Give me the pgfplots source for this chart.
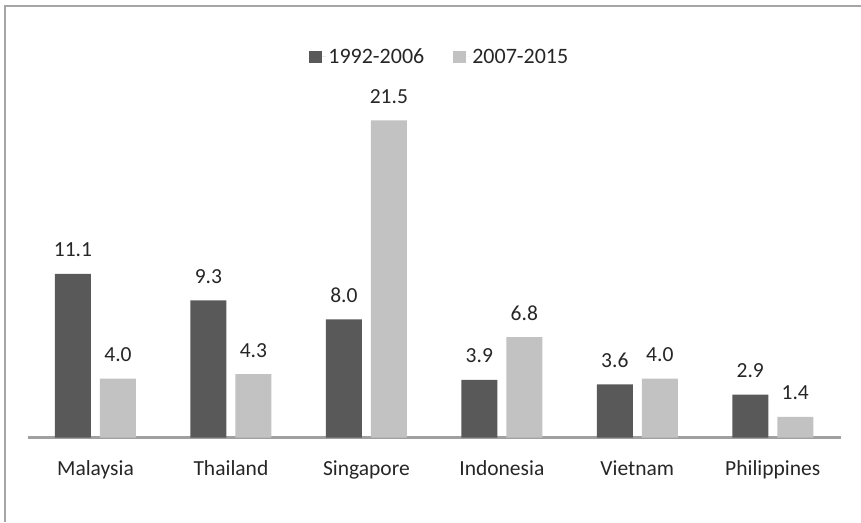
\documentclass[border=0pt]{standalone}
\usepackage{pgfplots}
\pgfplotsset{compat=1.18}
\usepackage{fontspec}
\setmainfont{Carlito}
\definecolor{darkbar}{HTML}{595959}
\definecolor{lightbar}{HTML}{C2C2C2}
\definecolor{axisgray}{HTML}{A0A0A0}
\definecolor{framegray}{HTML}{A6A6A6}
\begin{document}
\begin{tikzpicture}[x=1pt,y=1pt]
\useasboundingbox (0,0) rectangle (861,522);
\draw[framegray, line width=1.5pt] (5,0) -- (5,516) -- (861,516);
\begin{axis}[
  at={(27.75pt,84.5pt)}, anchor=south west,
  scale only axis, width=812.75pt, height=368.75pt,
  xmin=-0.5, xmax=5.5, ymin=0, ymax=25,
  axis x line=bottom, axis y line=none,
  x axis line style={axisgray, line width=2.5pt, -},
  xtick={0,1,2,3,4,5}, major tick length=0pt,
  xticklabels={Malaysia,Thailand,Singapore,Indonesia,Vietnam,Philippines},
  xticklabel style={anchor=base, yshift=-37.5pt, font=\fontsize{21.5}{24}\selectfont, text=black!85},
  ytick=\empty,
  ybar, bar width=36pt,
  /pgf/number format/assume math mode=true,
  nodes near coords={\pgfmathprintnumber[fixed,fixed zerofill,precision=1]{\pgfplotspointmeta}},
  every node near coord/.append style={anchor=base, yshift=17pt, inner sep=0pt, font=\fontsize{21.5}{24}\selectfont, text=black!85},
  legend columns=2,
  legend style={draw=none, fill=none, at={(axis description cs:0.507,1)}, anchor=center, yshift=11.75pt,
    font=\fontsize{22}{24}\selectfont, text=black!85,
    /tikz/every even column/.append style={column sep=27pt}},
  legend image code/.code={\fill[#1] (0pt,-6pt) rectangle (13pt,6pt); \path (0pt,0pt) -- (17pt,0pt);},
]
\addplot[fill=darkbar, draw=none, bar shift=-22.5pt] coordinates {(0,11.1) (1,9.3) (2,8.0) (3,3.9) (4,3.6) (5,2.9)};
\addplot[fill=lightbar, draw=none, bar shift=22.5pt] coordinates {(0,4.0) (1,4.3) (2,21.5) (3,6.8) (4,4.0) (5,1.4)};
\legend{1992-2006,2007-2015}
\end{axis}
\end{tikzpicture}
\end{document}
